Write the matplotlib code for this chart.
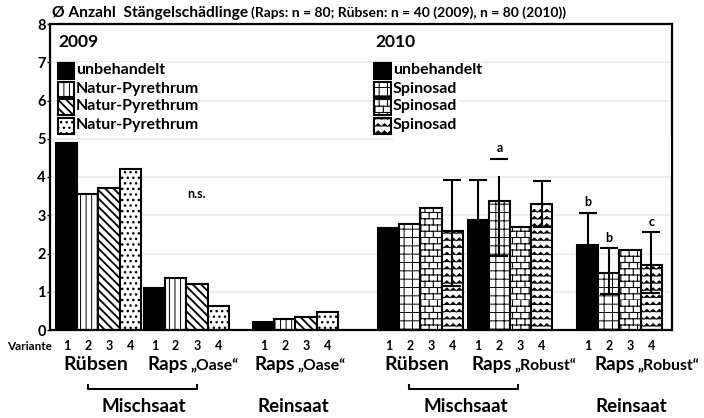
import warnings
warnings.filterwarnings("ignore")
import numpy as np
import matplotlib
matplotlib.use("Agg")
import matplotlib.pyplot as plt
import matplotlib.hatch as mhatch
from matplotlib.path import Path
from matplotlib.patches import Rectangle
from matplotlib.lines import Line2D

# ---------------- data ----------------
variants = ["1", "2", "3", "4"]
legend_2009 = ["unbehandelt", "Natur-Pyrethrum", "Natur-Pyrethrum", "Natur-Pyrethrum"]
legend_2010 = ["unbehandelt", "Spinosad", "Spinosad", "Spinosad"]

v2009_ruebsen = [4.90, 3.55, 3.72, 4.20]
v2009_raps_misch = [1.10, 1.37, 1.19, 0.63]
v2009_raps_rein = [0.22, 0.29, 0.35, 0.46]
v2010_ruebsen = [2.66, 2.77, 3.18, 2.60]
v2010_raps_misch = [2.88, 3.36, 2.68, 3.29]
v2010_raps_rein = [2.21, 1.50, 2.08, 1.69]

nan = np.nan
err_lo_2010_ruebsen = [nan, nan, nan, 1.45]
err_hi_2010_ruebsen = [nan, nan, nan, 1.32]
err_lo_2010_raps_misch = [1.04, 1.43, nan, 0.59]
err_hi_2010_raps_misch = [1.04, 1.12, nan, 0.61]
err_lo_2010_raps_rein = [0.86, 0.56, nan, 0.71]
err_hi_2010_raps_rein = [0.86, 0.64, nan, 0.86]

letters_2010_raps_misch = ["", "a", "", ""]
letters_2010_raps_rein = ["b", "b", "", "c"]
ns_label = "n.s."

# ---------------- custom hatches ----------------
class BrickHatch(mhatch.HatchPatternBase):
    def __init__(self, hatch, density):
        k = hatch.count('b')
        self.rows = 16 * k
        self.cols = 12
        self.num_vertices = (self.rows * 2 + self.rows * self.cols * 2) if k else 0

    def set_vertices_and_codes(self, vertices, codes):
        v = []
        for i in range(self.rows):
            y0 = i / self.rows
            y1 = (i + 1) / self.rows
            v.append((0.0, y0)); v.append((1.0, y0))
            off = 0.5 / self.cols if i % 2 else 0.0
            for j in range(self.cols):
                x = j / self.cols + off
                v.append((x, y0)); v.append((x, y1))
        vertices[:] = np.array(v)
        codes[0::2] = Path.MOVETO
        codes[1::2] = Path.LINETO


class WaveHatch(mhatch.HatchPatternBase):
    def __init__(self, hatch, density):
        k = hatch.count('z')
        self.rows = 14 * k
        self.per = 16
        self.num_vertices = self.rows * (2 * self.per + 1) if k else 0

    def set_vertices_and_codes(self, vertices, codes):
        v = []
        c = []
        amp = 0.2 / max(self.rows, 1)
        n = 2 * self.per
        for i in range(self.rows):
            yb = (i + 0.5) / self.rows
            for t in range(n + 1):
                v.append((t / n, yb + (amp if t % 2 else -amp)))
                c.append(Path.MOVETO if t == 0 else Path.LINETO)
        vertices[:] = np.array(v)
        codes[:] = np.array(c)


mhatch._hatch_types.append(BrickHatch)
mhatch._hatch_types.append(WaveHatch)

# ---------------- style ----------------
plt.rcParams['font.family'] = ['Lato', 'DejaVu Sans']
plt.rcParams['font.weight'] = 'bold'
plt.rcParams['hatch.linewidth'] = 0.7
plt.rcParams['hatch.color'] = 'black'

W, H = 704, 418
fig = plt.figure(figsize=(W / 100, H / 100), dpi=100)
ax = fig.add_axes([50 / W, (H - 330) / H, 622 / W, 306 / H])

def P(x, y):
    return (x / W, 1 - y / H)

style_2009 = [dict(facecolor='black', hatch=None, hlw=0.7),
              dict(facecolor='white', hatch='|||', hlw=0.7),
              dict(facecolor='white', hatch='\\\\\\\\', hlw=1.3),
              dict(facecolor='white', hatch='...', hlw=1.0)]
style_2010 = [dict(facecolor='black', hatch=None, hlw=0.7),
              dict(facecolor='white', hatch='++', hlw=0.7),
              dict(facecolor='white', hatch='b', hlw=0.8),
              dict(facecolor='white', hatch='z', hlw=0.6)]

def apply_hlw(artist, lw):
    if hasattr(artist, 'set_hatch_linewidth'):
        try:
            artist.set_hatch_linewidth(lw)
        except Exception:
            pass

# group left edges (layout, in bar-width units)
group_start = [0.28, 4.43, 9.58, 15.47, 19.70, 24.86]
groups = [
    (v2009_ruebsen, style_2009, None, None, None),
    (v2009_raps_misch, style_2009, None, None, None),
    (v2009_raps_rein, style_2009, None, None, None),
    (v2010_ruebsen, style_2010, err_lo_2010_ruebsen, err_hi_2010_ruebsen, None),
    (v2010_raps_misch, style_2010, err_lo_2010_raps_misch, err_hi_2010_raps_misch, letters_2010_raps_misch),
    (v2010_raps_rein, style_2010, err_lo_2010_raps_rein, err_hi_2010_raps_rein, letters_2010_raps_rein),
]

tick_pos, tick_lab = [], []
for gs, (vals, sty, elo, ehi, lets) in zip(group_start, groups):
    xs = gs + 0.5 + np.arange(len(vals))
    for x, v, s in zip(xs, vals, sty):
        bc = ax.bar(x, v, width=1.0, color=s['facecolor'], edgecolor='black',
                    linewidth=1.5, hatch=s['hatch'], zorder=2)
        for p in bc:
            apply_hlw(p, s['hlw'])
    tick_pos.extend(xs)
    tick_lab.extend(variants)
    if elo is not None:
        for k, (x, v) in enumerate(zip(xs, vals)):
            if np.isnan(elo[k]):
                continue
            _, caps, bars = ax.errorbar(x, v, yerr=[[elo[k]], [ehi[k]]], fmt='none',
                                        ecolor='black', elinewidth=1.5, capsize=6.5,
                                        capthick=1.5, zorder=3)
            for cl in caps:
                cl.set_zorder(5)
            if lets is not None and lets[k]:
                ax.annotate(lets[k], (x, v + ehi[k]), xytext=(0, 3),
                            textcoords='offset points', ha='center', va='bottom',
                            fontsize=9, fontweight='bold', zorder=6)

# white area over the 2010 annotation band (as in the original)
ax.add_patch(Rectangle((16.2, 4.03), 13.1, 1.05, facecolor='white',
                       edgecolor='none', zorder=4))

ax.text(6.9, 3.56, ns_label, ha='center', va='center', fontsize=9, fontweight='bold')

ax.set_xlim(0, 622 / 21.2)
ax.set_ylim(0, 8)
ax.set_yticks(range(0, 9))
ax.set_yticklabels([str(i) for i in range(0, 9)], fontsize=10.5, fontweight='bold')
for y in range(1, 8):
    ax.axhline(y, color='#ebebeb', linewidth=1.3, zorder=0)
ax.set_xticks(tick_pos)
ax.set_xticklabels(tick_lab, fontsize=9, fontweight='bold')
ax.tick_params(axis='x', length=0, pad=7)
ax.tick_params(axis='y', length=2, width=1, pad=1)
for sp in ax.spines.values():
    sp.set_linewidth(1.6)
    sp.set_color('black')

# ---------------- texts ----------------
fig.text(*P(52, 13), "Ø Anzahl  Stängelschädlinge", fontsize=11.2, fontweight='bold',
         ha='left', va='center')
fig.text(*P(251, 13), "(Raps: n = 80; Rübsen: n = 40 (2009), n = 80 (2010))", fontsize=10,
         fontweight='bold', ha='left', va='center')
fig.text(*P(58, 42), "2009", fontsize=12.5, fontweight='bold', ha='left', va='center')
fig.text(*P(375, 42), "2010", fontsize=12.5, fontweight='bold', ha='left', va='center')

row_y = [71, 89.5, 107, 126]
for (x0, labels, styles, pw) in [(58, legend_2009, style_2009, 16), (374, legend_2010, style_2010, 17)]:
    for yy, lab, s in zip(row_y, labels, styles):
        fx, fy = P(x0, yy + 7.5)
        r = Rectangle((fx, fy), pw / W, 15 / H, transform=fig.transFigure,
                      facecolor=s['facecolor'], edgecolor='black', linewidth=1.5,
                      hatch=s['hatch'])
        apply_hlw(r, s['hlw'])
        fig.add_artist(r)
        fig.text(*P(x0 + pw + 2, yy - 1), lab, fontsize=11.5, fontweight='bold',
                 ha='left', va='center',
                 bbox=dict(facecolor='white', edgecolor='none', pad=0.5))

fig.text(*P(52, 347), "Variante", fontsize=8.5, fontweight='bold', ha='right', va='center')

def two_part(x_split, y, big, small):
    fig.text(*P(x_split, y), big, fontsize=13.5, fontweight='bold', ha='right', va='baseline')
    fig.text(*P(x_split + 2, y), small, fontsize=11.3, fontweight='bold', ha='left', va='baseline')

base_y = 370
fig.text(*P(96, base_y), "Rübsen", fontsize=14, fontweight='bold', ha='center', va='baseline')
two_part(188, base_y, "Raps", "„Oase“")
two_part(295, base_y, "Raps", "„Oase“")
fig.text(*P(417, base_y), "Rübsen", fontsize=14, fontweight='bold', ha='center', va='baseline')
two_part(512, base_y, "Raps", "„Robust“")
two_part(635, base_y, "Raps", "„Robust“")

for (xa, xb) in [(88, 197), (409, 518)]:
    xs = [xa, xa, xb, xb]
    ys = [385, 389, 389, 385]
    fig.add_artist(Line2D([x / W for x in xs], [1 - y / H for y in ys],
                          transform=fig.transFigure, color='black', linewidth=1.5))

low_y = 406
fig.text(*P(144, low_y), "Mischsaat", fontsize=13.5, fontweight='bold', ha='center', va='center')
fig.text(*P(293, low_y), "Reinsaat", fontsize=13.5, fontweight='bold', ha='center', va='center')
fig.text(*P(466, low_y), "Mischsaat", fontsize=13.5, fontweight='bold', ha='center', va='center')
fig.text(*P(631, low_y), "Reinsaat", fontsize=13.5, fontweight='bold', ha='center', va='center')

fig.savefig("out.png", dpi=100)
